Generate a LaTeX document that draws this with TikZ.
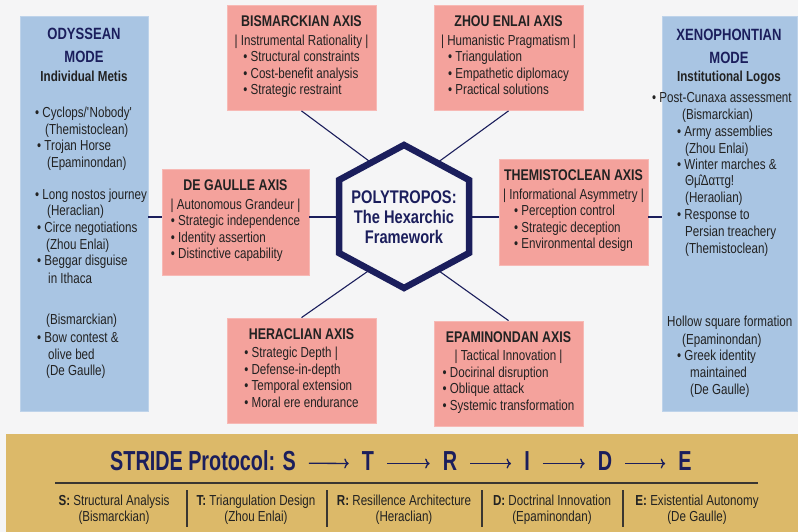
\documentclass[tikz,border=0pt]{standalone}
\usepackage{fontspec}
\setmainfont{Liberation Sans}[FakeStretch=0.8]
\newfontfamily\bandfont{Liberation Sans}[FakeStretch=0.72]
\usetikzlibrary{arrows.meta}

\definecolor{bgc}{HTML}{F5F5F6}
\definecolor{panelblue}{HTML}{A9C5E3}
\definecolor{axispink}{HTML}{F4A29C}
\definecolor{bandgold}{HTML}{DCB969}
\definecolor{navy}{HTML}{1B1E5C}
\definecolor{ink}{HTML}{222222}
\definecolor{rulegray}{HTML}{3A3631}

\newcommand\bodysize{\fontsize{14.5}{16.5}\selectfont}
\newcommand\axistitle[1]{{\fontsize{15.5}{18}\selectfont\bfseries #1}}

\begin{document}
\begin{tikzpicture}[x=1pt,y=-1pt,
  panel/.style={fill=panelblue, draw=panelblue!75!white, line width=0.8pt, inner sep=0pt},
  axisbox/.style={fill=axispink, draw=axispink!75!white, line width=0.8pt,
    minimum width=149pt, minimum height=105pt, align=center, text=ink,
    font=\bodysize, inner sep=0pt},
  paneltext/.style={anchor=mid west, font=\bodysize, text=ink, inner sep=0pt},
  paneltitle/.style={align=center, font=\fontsize{16.3}{23}\selectfont\bfseries, text=navy, inner sep=0pt},
  panelsub/.style={anchor=mid, font=\fontsize{14.5}{16}\selectfont\bfseries, text=ink, inner sep=0pt},
  link/.style={draw=navy, line width=1.1pt},
  hexline/.style={draw=navy, fill=bgc, line width=6.5pt, line join=miter},
  hextext/.style={align=center, font=\fontsize{18.3}{20}\selectfont\bfseries, text=navy, inner sep=0pt},
  bandtitle/.style={font=\bandfont\fontsize{27.5}{30}\selectfont\bfseries, text=navy, inner sep=0pt},
  stridearrow/.style={draw=navy, line width=1.3pt, -{To[length=4.5pt,width=10pt]},
    shorten <=13pt, shorten >=13pt},
  colrule/.style={draw=rulegray, line width=1.3pt},
  coltext/.style={align=center, font=\fontsize{14.5}{16}\selectfont, text=ink, inner sep=0pt}]

\useasboundingbox (0,0) rectangle (798,532);
\fill[bgc] (0,0) rectangle (798,532);

% side panels
\node[panel, minimum width=128pt, minimum height=395pt] (odpanel) at (84,213.5) {};
\node[panel, minimum width=135pt, minimum height=395pt] (xepanel) at (729.5,213.5) {};

% the six axes
\node[axisbox] (bis) at (301.5,58) {\axistitle{BISMARCKIAN AXIS}\\[2pt]
  | Instrumental Rationality |\\
  \begin{tabular}[t]{@{}l@{}}• Structural constraints\\• Cost-benefit analysis\\• Strategic restraint\end{tabular}};
\node[axisbox] (zh) at (508.5,58) {\axistitle{ZHOU ENLAI AXIS}\\[2pt]
  | Humanistic Pragmatism |\\
  \begin{tabular}[t]{@{}l@{}}• Triangulation\\• Empathetic diplomacy\\• Practical solutions\end{tabular}};
\node[axisbox, minimum width=147pt, minimum height=106pt] (dg) at (235.5,222) {\axistitle{DE GAULLE AXIS}\\[2pt]
  | Autonomous Grandeur |\\
  \begin{tabular}[t]{@{}l@{}}• Strategic independence\\• Identity assertion\\• Distinctive capability\end{tabular}};
\node[axisbox, minimum height=106pt] (th) at (573.5,212) {\axistitle{THEMISTOCLEAN AXIS}\\[2pt]
  | Informational Asymmetry |\\
  \begin{tabular}[t]{@{}l@{}}• Perception control\\• Strategic deception\\• Environmental design\end{tabular}};
\node[axisbox] (hr) at (301.5,370.5) {\axistitle{HERACLIAN AXIS}\\[2pt]
  \begin{tabular}[t]{@{}l@{}}• Strategic Depth |\\• Defense-in-depth\\• Temporal extension\\• Moral ere endurance\end{tabular}};
\node[axisbox] (ep) at (508.5,373.5) {\axistitle{EPAMINONDAN AXIS}\\[2pt]
  | Tactical Innovation |\\
  \begin{tabular}[t]{@{}l@{}}• Docirinal disruption\\• Oblique attack\\• Systemic transformation\end{tabular}};

% hub of the framework
\coordinate (hexc) at (404,217);
\coordinate (hubN) at (404,187);
\coordinate (hubS) at (404,246);

\draw[link] (odpanel.east |- hexc) -- (dg.west |- hexc);
\draw[link] (dg.east |- hexc) -- (hexc);
\draw[link] (hexc) -- (th.west |- hexc);
\draw[link] (th.east |- hexc) -- (xepanel.west |- hexc);
\draw[link] (bis.south) -- (hubN);
\draw[link] (zh.south) -- (hubN);
\draw[link] (hr.north) -- (hubS);
\draw[link] (ep.north) -- (hubS);

\draw[hexline] (404,145) -- (469,180) -- (469,253) -- (404,288) -- (339,253) -- (339,180) -- cycle;
\node[hextext] (hex) at (hexc) {POLYTROPOS:\\The Hexarchic\\Framework};

% Odyssean panel
\node[paneltitle] (odt) at (84,45.5) {ODYSSEAN\\MODE};
\node[panelsub] (ods) at (84,79) {Individual Metis};
\node[paneltext] (od1) at (35,115) {• Cyclops/\textquotesingle Nobody\textquotesingle};
\node[paneltext] (od2) at (45,131.7) {(Themistoclean)};
\node[paneltext] (od3) at (37,148.3) {• Trojan Horse};
\node[paneltext] (od4) at (47,165) {(Epaminondan)};
\node[paneltext] (od5) at (35,196.7) {• Long nostos journey};
\node[paneltext] (od6) at (47,213.3) {(Heraclian)};
\node[paneltext] (od7) at (37,230) {• Circe negotiations};
\node[paneltext] (od8) at (46,246.7) {(Zhou Enlai)};
\node[paneltext] (od9) at (37,263.3) {• Beggar disguise};
\node[paneltext] (od10) at (48,281) {in Ithaca};
\node[paneltext] (od11) at (46,321.7) {(Bismarckian)};
\node[paneltext] (od12) at (37,340) {• Bow contest \&};
\node[paneltext] (od13) at (48,356.7) {olive bed};
\node[paneltext] (od14) at (46,373.3) {(De Gaulle)};

% Xenophontian panel
\node[paneltitle] (xet) at (729,46) {XENOPHONTIAN\\MODE};
\node[panelsub] (xes) at (729,79) {Institutional Logos};
\node[paneltext] (xe1) at (652,100) {• Post-Cunaxa assessment};
\node[paneltext] (xe2) at (682,117) {(Bismarckian)};
\node[paneltext] (xe3) at (677,134) {• Army assemblies};
\node[paneltext] (xe4) at (685,151) {(Zhou Enlai)};
\node[paneltext] (xe5) at (677,167) {• Winter marches \&};
\node[paneltext] (xe6) at (685,183) {Θμ̂Δαττg!};
\node[paneltext] (xe7) at (685,200) {(Heraolian)};
\node[paneltext] (xe8) at (677,217) {• Response to};
\node[paneltext] (xe9) at (685,234) {Persian treachery};
\node[paneltext] (xe10) at (685,251) {(Themistoclean)};
\node[paneltext] (xe11) at (667,324) {Hollow square formation};
\node[paneltext] (xe12) at (682,342) {(Epaminondan)};
\node[paneltext] (xe13) at (677,358) {• Greek identity};
\node[paneltext] (xe14) at (690,375) {maintained};
\node[paneltext] (xe15) at (690,392) {(De Gaulle)};

% STRIDE band
\fill[bandgold] (6,434) rectangle (798,532);
\node[bandtitle, anchor=base west] (stride) at (110,470) {STRIDE Protocol: S};
\node[bandtitle, anchor=base] (sT) at (368,470) {T};
\node[bandtitle, anchor=base] (sR) at (450,470) {R};
\node[bandtitle, anchor=base] (sI) at (527,470) {I};
\node[bandtitle, anchor=base] (sD) at (605,470) {D};
\node[bandtitle, anchor=base] (sE) at (685,470) {E};
\draw[stridearrow] ([yshift=-3pt]stride.east) -- ([yshift=-3pt]sT.west);
\draw[stridearrow] ([yshift=-3pt]sT.east) -- ([yshift=-3pt]sR.west);
\draw[stridearrow] ([yshift=-3pt]sR.east) -- ([yshift=-3pt]sI.west);
\draw[stridearrow] ([yshift=-3pt]sI.east) -- ([yshift=-3pt]sD.west);
\draw[stridearrow] ([yshift=-3pt]sD.east) -- ([yshift=-3pt]sE.west);

\draw[colrule] (55,483) -- (758,483);
\foreach \dx in {187,327,482,623} \draw[colrule] (\dx,490) -- (\dx,527);

\node[coltext] (cS) at (114,510) {\textbf{S:} Structural Analysis\\(Bismarckian)};
\node[coltext] (cT) at (256,510) {\textbf{T:} Triangulation Design\\(Zhou Enlai)};
\node[coltext] (cR) at (404,510) {\textbf{R:} Resillence Architecture\\(Heraclian)};
\node[coltext] (cD) at (552,510) {\textbf{D:} Doctrinal Innovation\\(Epaminondan)};
\node[coltext] (cE) at (697,510) {\textbf{E:} Existential Autonomy\\(De Gaulle)};
\end{tikzpicture}
\end{document}
